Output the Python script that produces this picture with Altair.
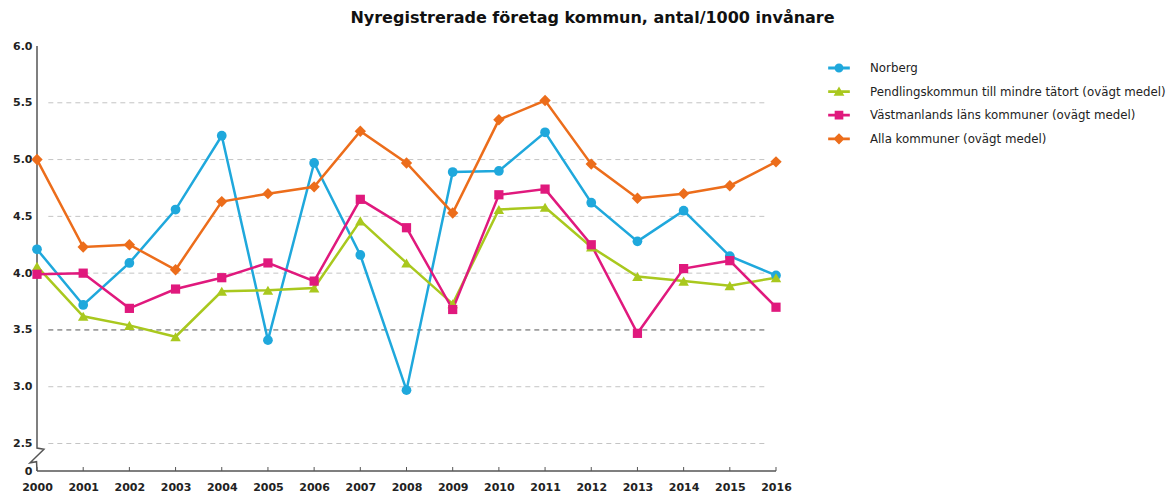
import altair as alt
import pandas as pd

years = list(range(2000, 2017))
series = [
    "Norberg",
    "Pendlingskommun till mindre tätort (ovägt medel)",
    "Västmanlands läns kommuner (ovägt medel)",
    "Alla kommuner (ovägt medel)",
]
norberg = [4.21, 3.72, 4.09, 4.56, 5.21, 3.41, 4.97, 4.16, 2.97, 4.89, 4.90, 5.24, 4.62, 4.28, 4.55, 4.15, 3.98]
pendling = [4.06, 3.62, 3.54, 3.44, 3.84, 3.85, 3.87, 4.46, 4.09, 3.73, 4.56, 4.58, 4.23, 3.97, 3.93, 3.89, 3.96]
vastmanland = [3.99, 4.00, 3.69, 3.86, 3.96, 4.09, 3.93, 4.65, 4.40, 3.68, 4.69, 4.74, 4.25, 3.47, 4.04, 4.11, 3.70]
alla = [5.00, 4.23, 4.25, 4.03, 4.63, 4.70, 4.76, 5.25, 4.97, 4.53, 5.35, 5.52, 4.96, 4.66, 4.70, 4.77, 4.98]
colors = ["#1fa8dc", "#a9c81e", "#e0197d", "#ec6d1b"]
marker_shapes = ["circle", "triangle-up", "square", "diamond"]
marker_sizes = [95, 110, 85, 130]
y_ticks = [2.258, 2.5, 3.0, 3.5, 4.0, 4.5, 5.0, 5.5, 6.0]
grid_light = [2.5, 3.0, 4.0, 4.5, 5.0, 5.5]
grid_dark = [3.5]

rows = []
for name, vals in zip(series, [norberg, pendling, vastmanland, alla]):
    for yr, v in zip(years, vals):
        rows.append({"year": yr, "value": v, "series": name})
df = pd.DataFrame(rows)

Y0, Y1 = 2.258, 6.0
xs = alt.Scale(domain=[2000, 2016], nice=False, zero=False)
ys = alt.Scale(domain=[Y0, Y1], nice=False, zero=False)
cs = alt.Scale(domain=series, range=colors)

line_seg = "M-1.25,-0.16H1.25V0.16H-1.25Z"
legend_paths = [
    line_seg + "M0.52,0A0.52,0.52 0 1,1 -0.52,0A0.52,0.52 0 1,1 0.52,0Z",
    line_seg + "M0,-0.58L0.62,0.47L-0.62,0.47Z",
    line_seg + "M-0.5,-0.5H0.5V0.5H-0.5Z",
    line_seg + "M0,-0.65L0.65,0L0,0.65L-0.65,0Z",
]

x_axis = alt.Axis(
    values=years, format="d", title=None, grid=False, domain=False,
    ticks=False, labelFont="DejaVu Sans", labelFontWeight="bold", labelFlush=False,
    labelFontSize=11, labelColor="#222222", labelPadding=10)
y_axis = alt.Axis(
    values=y_ticks, title=None, grid=False, domain=False, ticks=False,
    labelExpr="datum.value < 2.4 ? '0' : format(datum.value, '.1f')",
    labelFont="DejaVu Sans", labelFontWeight="bold", labelFontSize=11,
    labelColor="#222222", labelPadding=5)

# legend / axis defining layer (no visible data)
legend_layer = alt.Chart(df).transform_filter("datum.value > 100").mark_point(filled=True, opacity=1).encode(
    x=alt.X("year:Q", scale=xs, axis=x_axis),
    y=alt.Y("value:Q", scale=ys, axis=y_axis),
    color=alt.Color("series:N", scale=cs, legend=alt.Legend(title=None)),
    shape=alt.Shape("series:N", scale=alt.Scale(domain=series, range=legend_paths),
                    legend=alt.Legend(title=None)),
)

grid_df = pd.DataFrame({"g": grid_light, "x0": 2000.245, "x1": 2015.76})
grid_dark_df = pd.DataFrame({"g": grid_dark, "x0": 2000.245, "x1": 2015.76})
grid = alt.Chart(grid_df).mark_rule(color="#c4c4c4", strokeDash=[5, 4], strokeWidth=1).encode(
    x=alt.X("x0:Q", scale=xs), x2="x1:Q", y=alt.Y("g:Q", scale=ys)
)
grid2 = alt.Chart(grid_dark_df).mark_rule(color="#555555", strokeDash=[5, 4], strokeWidth=1).encode(
    x=alt.X("x0:Q", scale=xs), x2="x1:Q", y=alt.Y("g:Q", scale=ys)
)

# y axis line with break
brk = pd.DataFrame({
    "bx": [2000.0, 2000.0, 2000.15, 1999.85, 1999.99, 2000.0],
    "by": [6.0, 2.46, 2.45, 2.33, 2.34, Y0],
    "o": [0, 1, 2, 3, 4, 5],
})
yaxis_line = alt.Chart(brk).mark_line(color="#555555", strokeWidth=1.5).encode(
    x=alt.X("bx:Q", scale=xs), y=alt.Y("by:Q", scale=ys), order="o:Q"
)

# x axis line
xline_df = pd.DataFrame({"x0": [2000], "x1": [2016], "y0": [Y0]})
xaxis_line = alt.Chart(xline_df).mark_rule(color="#555555", strokeWidth=1.5).encode(
    x=alt.X("x0:Q", scale=xs), x2="x1:Q", y=alt.Y("y0:Q", scale=ys)
)

tick_df = pd.DataFrame({"year": years, "t0": Y0, "t1": Y0 + 0.035})
xticks = alt.Chart(tick_df).mark_rule(color="#555555", strokeWidth=1).encode(
    x=alt.X("year:Q", scale=xs), y=alt.Y("t0:Q", scale=ys), y2="t1:Q"
)

lines = alt.Chart(df).mark_line(strokeWidth=2.5).encode(
    x=alt.X("year:Q", scale=xs),
    y=alt.Y("value:Q", scale=ys),
    color=alt.Color("series:N", scale=cs),
    detail="series:N",
)

point_layers = []
for name, shp, sz in zip(series, marker_shapes, marker_sizes):
    point_layers.append(
        alt.Chart(df).transform_filter(alt.datum.series == name)
        .mark_point(shape=shp, size=sz, filled=True, opacity=1)
        .encode(
            x=alt.X("year:Q", scale=xs),
            y=alt.Y("value:Q", scale=ys),
            color=alt.Color("series:N", scale=cs),
        )
    )

chart = alt.layer(legend_layer, grid, grid2, yaxis_line, xaxis_line, xticks, lines, *point_layers).properties(
    width=739,
    height=425,
    autosize=alt.AutoSizeParams(type="none"),
    padding={"left": 29, "top": 38, "right": 392, "bottom": 21},
    title=alt.Title("Nyregistrerade företag kommun, antal/1000 invånare", font="DejaVu Sans",
                    fontSize=16, fontWeight="bold", color="#111111", anchor="middle",
                    dx=186, offset=14),
).configure_view(stroke=None).configure_legend(
    orient="none", legendX=793, legendY=13, padding=0,
    symbolSize=300, symbolStrokeWidth=0, symbolOpacity=1,
    labelFont="DejaVu Sans", labelFontSize=11.8, labelColor="#222222",
    labelOffset=22, rowPadding=7.6, labelLimit=400,
)

chart.save("out.html", embed_options={"renderer": "svg", "actions": False})
